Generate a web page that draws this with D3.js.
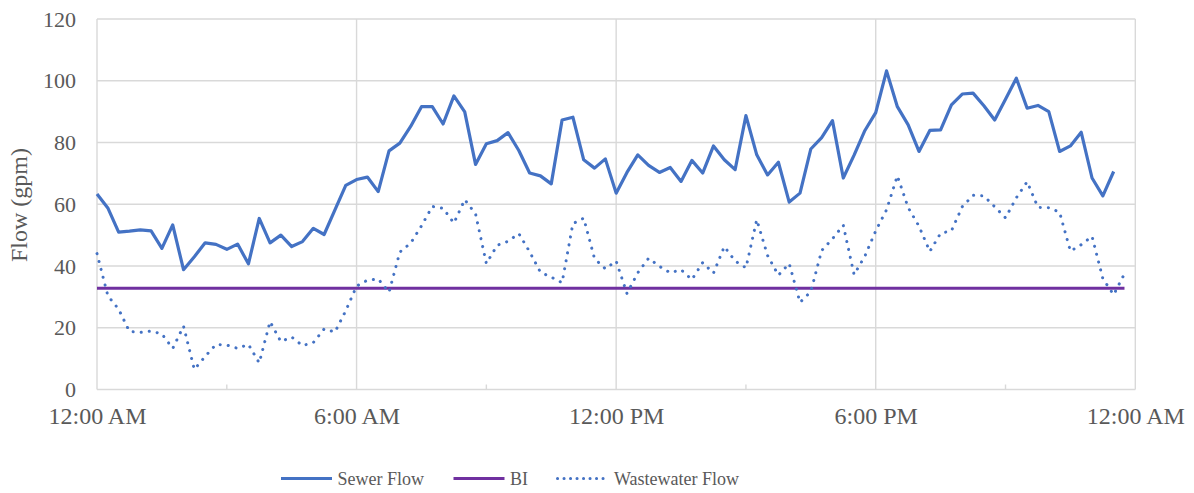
<!DOCTYPE html>
<html>
<head>
<meta charset="utf-8">
<script src="https://cdn.jsdelivr.net/npm/d3@7"></script>
<style>
  body { margin: 0; background: #fff; }
  svg { display: block; }
  svg text { font-family: "Liberation Serif", "Times New Roman", serif; }
</style>
</head>
<body>
<svg id="chart"></svg>
<script>
// 15-minute readings over one day
const startTime = new Date(2021, 0, 1, 0, 0);
const endTime = new Date(2021, 0, 2, 0, 0);
const intervalMinutes = 15;

const sewerFlow = [
  63.3, 58.8, 51.0, 51.3, 51.7, 51.4, 45.7, 53.3, 38.8, 43.0, 47.5, 47.0,
  45.4, 47.1, 40.7, 55.4, 47.5, 50.0, 46.3, 47.9, 52.2, 50.2, 58.2, 66.1,
  68.0, 68.8, 64.1, 77.3, 79.8, 85.2, 91.6, 91.6, 86.0, 95.1, 89.9, 72.9,
  79.6, 80.6, 83.2, 77.4, 70.1, 69.2, 66.6, 87.3, 88.2, 74.4, 71.7, 74.7,
  63.6, 70.3, 76.0, 72.6, 70.3, 71.9, 67.4, 74.2, 70.1, 78.9, 74.4, 71.2,
  88.7, 76.0, 69.5, 73.6, 60.7, 63.6, 77.9, 81.6, 87.1, 68.5, 75.9, 83.9,
  89.7, 103.2, 91.6, 85.7, 77.1, 83.9, 84.1, 92.2, 95.7, 96.0, 91.9, 87.3,
  94.0, 100.8, 91.1, 92.0, 90.0, 77.1, 78.9, 83.3, 68.5, 62.7, 70.6
];

const wastewaterFlow = [
  44.0, 30.4, 26.0, 18.8, 18.5, 18.9, 18.0, 13.3, 20.5, 6.5, 10.7, 14.6,
  14.4, 13.3, 14.6, 8.6, 22.0, 15.5, 17.0, 14.2, 15.2, 19.6, 18.6, 25.5,
  33.5, 35.4, 35.8, 31.5, 44.5, 47.4, 53.0, 59.3, 58.7, 53.9, 61.5, 56.9,
  40.8, 46.7, 48.0, 50.5, 44.6, 38.0, 36.4, 34.6, 53.7, 55.5, 42.4, 39.1,
  41.6, 31.1, 37.8, 42.5, 39.9, 37.8, 38.8, 35.6, 41.1, 37.7, 46.3, 41.6,
  39.4, 55.0, 43.4, 37.0, 40.8, 28.2, 31.7, 45.0, 48.8, 53.2, 37.2, 43.2,
  51.4, 58.2, 69.2, 58.9, 52.9, 44.7, 50.6, 51.4, 59.2, 62.9, 62.7, 59.2,
  55.6, 62.1, 67.3, 59.0, 58.9, 57.4, 44.8, 46.9, 49.6, 35.9, 30.7, 37.5
];

// BI is a flat level across the day (first and last reading)
const biFlow = [32.8, 32.8];

const yTicks = [0, 20, 40, 60, 80, 100, 120];
const xTickLabels = ['12:00 AM', '6:00 AM', '12:00 PM', '6:00 PM', '12:00 AM'];
const seriesNames = ['Sewer Flow', 'BI', 'Wastewater Flow'];

const width = 1194;
const height = 493;
const grid = '#d9d9d9';
const textColor = '#595959';
const blue = '#4472c4';
const purple = '#7030a0';
const serif = '"Liberation Serif", "Times New Roman", serif';

const timeAt = i => d3.timeMinute.offset(startTime, i * intervalMinutes);

const sewerData = sewerFlow.map((v, i) => ({ t: timeAt(i), v }));
const wasteData = wastewaterFlow.map((v, i) => ({ t: timeAt(i), v }));
const biData = [
  { t: timeAt(0), v: biFlow[0] },
  { t: timeAt(wastewaterFlow.length - 1), v: biFlow[1] }
];

const x = d3.scaleTime().domain([startTime, endTime]).range([97, 1135.3]);
const y = d3.scaleLinear().domain([0, 120]).range([389.5, 19]);

const svg = d3.select('#chart').attr('width', width).attr('height', height);

const majorTicks = d3.timeHour.every(6).range(startTime, d3.timeMinute.offset(endTime, 1));
const minorTicks = d3.timeHour.every(3).range(startTime, endTime)
  .filter(d => d.getHours() % 6 !== 0);

// gridlines
svg.append('g')
  .selectAll('line')
  .data(yTicks)
  .join('line')
    .attr('x1', x.range()[0])
    .attr('x2', x.range()[1])
    .attr('y1', d => y(d))
    .attr('y2', d => y(d))
    .attr('stroke', grid)
    .attr('stroke-width', 1.4);

svg.append('g')
  .selectAll('line')
  .data(majorTicks)
  .join('line')
    .attr('x1', d => x(d))
    .attr('x2', d => x(d))
    .attr('y1', y(0))
    .attr('y2', y(120))
    .attr('stroke', grid)
    .attr('stroke-width', 1.4);

svg.append('g')
  .selectAll('line')
  .data(minorTicks)
  .join('line')
    .attr('x1', d => x(d))
    .attr('x2', d => x(d))
    .attr('y1', y(0))
    .attr('y2', y(0) - 5)
    .attr('stroke', grid)
    .attr('stroke-width', 1.4);

// axes
const yAxis = svg.append('g')
  .attr('transform', `translate(${x.range()[0]},0)`)
  .call(d3.axisLeft(y).tickValues(yTicks).tickSize(0).tickPadding(21));
yAxis.select('.domain').remove();
yAxis.selectAll('.tick text')
  .attr('fill', textColor)
  .style('font-family', serif)
  .style('font-size', '22px');

const xAxis = svg.append('g')
  .attr('transform', `translate(0,${y(0)})`)
  .call(d3.axisBottom(x).tickValues(majorTicks).tickSize(0).tickPadding(17)
    .tickFormat((d, i) => xTickLabels[i]));
xAxis.select('.domain').remove();
xAxis.selectAll('.tick text')
  .attr('fill', textColor)
  .style('font-family', serif)
  .style('font-size', '24px');

svg.append('text')
  .attr('transform', 'translate(27,205) rotate(-90)')
  .attr('text-anchor', 'middle')
  .attr('fill', textColor)
  .style('font-family', serif)
  .style('font-size', '24px')
  .text('Flow (gpm)');

// lines
const line = d3.line().x(d => x(d.t)).y(d => y(d.v));

svg.append('path')
  .datum(biData)
  .attr('d', line)
  .attr('fill', 'none')
  .attr('stroke', purple)
  .attr('stroke-width', 3.2);

svg.append('path')
  .datum(wasteData)
  .attr('d', line)
  .attr('fill', 'none')
  .attr('stroke', blue)
  .attr('stroke-width', 3)
  .attr('stroke-linecap', 'round')
  .attr('stroke-dasharray', '0.1 8');

svg.append('path')
  .datum(sewerData)
  .attr('d', line)
  .attr('fill', 'none')
  .attr('stroke', blue)
  .attr('stroke-width', 3.2)
  .attr('stroke-linejoin', 'round');

// legend
const legendStyles = [
  { color: blue, dash: null },
  { color: purple, dash: null },
  { color: blue, dash: '0.1 6.4' }
];

let lx = 281;
const ly = 478.5;
seriesNames.forEach((name, i) => {
  const s = legendStyles[i];
  const l = svg.append('line')
    .attr('x1', lx)
    .attr('x2', lx + 51)
    .attr('y1', ly)
    .attr('y2', ly)
    .attr('stroke', s.color)
    .attr('stroke-width', 3.2);
  if (s.dash) {
    l.attr('stroke-dasharray', s.dash).attr('stroke-linecap', 'round').attr('stroke-width', 3);
  }
  const t = svg.append('text')
    .attr('x', lx + 56.5)
    .attr('y', ly + 6.5)
    .attr('fill', textColor)
    .style('font-family', serif)
    .style('font-size', '18px')
    .text(name);
  lx += 56.5 + t.node().getComputedTextLength() + 29.5;
});
</script>
</body>
</html>
